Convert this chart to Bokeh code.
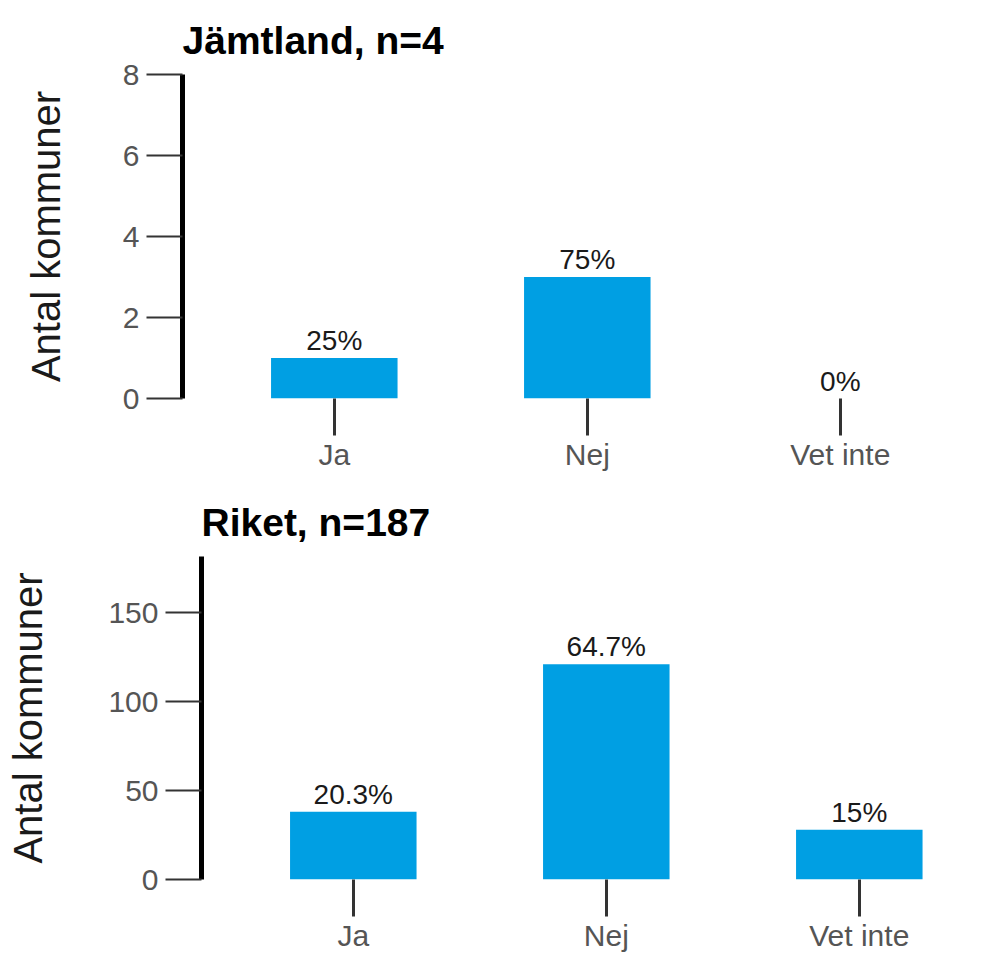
from bokeh.plotting import figure
from bokeh.models import ColumnDataSource, Range1d, FixedTicker
from bokeh.core.properties import value
from bokeh.embed import file_html
from bokeh.resources import INLINE

# ---- data ----
categories = ["Ja", "Nej", "Vet inte"]
jamtland_title = "Jämtland, n=4"
jamtland_counts = [1, 3, 0]
jamtland_ticks = [0, 2, 4, 6, 8]
jamtland_ymax = 8
riket_title = "Riket, n=187"
riket_counts = [38, 121, 28]
riket_ticks = [0, 50, 100, 150]
riket_ymax = 181.5
y_label = "Antal kommuner"

FONT = "Liberation Sans"
BAR = "#009FE3"
PX_PER_CAT = 253


def pct_labels(counts):
    n = sum(counts)
    out = []
    for c in counts:
        s = f"{100 * c / n:.1f}".rstrip("0").rstrip(".")
        out.append(s + "%")
    return out


def make_panel(title, counts, ticks, ymax, width, height, left, top, right, bottom, label_standoff):
    frame_w = width - left - right
    x0 = -0.6
    x1 = x0 + frame_w / PX_PER_CAT
    xs = list(range(len(categories)))
    src = ColumnDataSource(dict(x=xs, count=counts, label=pct_labels(counts)))
    p = figure(width=width, height=height, output_backend="svg", toolbar_location=None,
               x_range=Range1d(x0, x1), y_range=Range1d(0, ymax),
               min_border_left=left, min_border_top=top, min_border_right=right,
               min_border_bottom=bottom, title=title)
    p.vbar(x="x", top="count", bottom=0, width=0.5, source=src,
           fill_color=BAR, line_color=None)
    p.text(x="x", y="count", text="label", source=src, text_align="center",
           text_baseline="bottom", y_offset=-2, text_font=value(FONT),
           text_font_size="28px", text_color="#1a1a1a")
    p.title.text_font = FONT
    p.title.text_font_size = "39px"
    p.title.text_font_style = "bold"
    p.title.text_color = "#000000"
    p.title.align = "left"
    p.title.standoff = 26
    p.outline_line_color = None
    p.xgrid.grid_line_color = None
    p.ygrid.grid_line_color = None
    p.background_fill_color = "white"
    p.border_fill_color = "white"

    xa = p.xaxis[0]
    xa.ticker = FixedTicker(ticks=xs)
    xa.major_label_overrides = {i: c for i, c in zip(xs, categories)}
    xa.axis_line_color = None
    xa.major_tick_out = 37
    xa.major_tick_in = 0
    xa.major_tick_line_color = "#333333"
    xa.major_tick_line_width = 3
    xa.minor_tick_line_color = None
    xa.major_label_standoff = 2
    xa.major_label_text_font = FONT
    xa.major_label_text_font_size = "30px"
    xa.major_label_text_color = "#555555"

    ya = p.yaxis[0]
    ya.ticker = FixedTicker(ticks=ticks)
    ya.axis_line_color = "black"
    ya.axis_line_width = 5
    ya.major_tick_out = 36
    ya.major_tick_in = 0
    ya.major_tick_line_color = "#333333"
    ya.major_tick_line_width = 2
    ya.minor_tick_line_color = None
    ya.major_label_standoff = 7
    ya.major_label_text_font = FONT
    ya.major_label_text_font_size = "30px"
    ya.major_label_text_color = "#555555"
    ya.axis_label = y_label
    ya.axis_label_text_font = FONT
    ya.axis_label_text_font_size = "40px"
    ya.axis_label_text_font_style = "normal"
    ya.axis_label_text_color = "#1a1a1a"
    ya.axis_label_standoff = label_standoff
    return p


p1 = make_panel(jamtland_title, jamtland_counts, jamtland_ticks, jamtland_ymax,
                width=971, height=482, left=182, top=74, right=10, bottom=84, label_standoff=52)
p2 = make_panel(riket_title, riket_counts, riket_ticks, riket_ymax,
                width=971, height=474, left=201, top=74, right=10, bottom=77, label_standoff=55)

open("out.html", "w").write(file_html([p1, p2], INLINE))
